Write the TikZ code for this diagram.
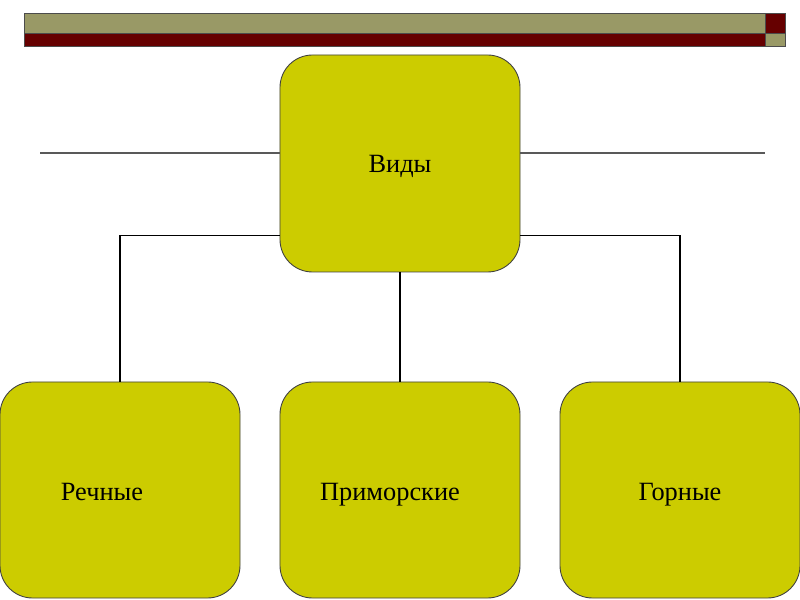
\documentclass[tikz,border=0pt]{standalone}
\usepackage{fontspec}
\setmainfont{Liberation Serif}
\usepackage{tikz}
\usetikzlibrary{positioning, calc}

\definecolor{boxfill}{HTML}{CCCC00}
\definecolor{barolive}{HTML}{999966}
\definecolor{barred}{HTML}{660000}

\begin{document}
\begin{tikzpicture}[
    x=0.2mm, y=-0.2mm,
    kind/.style={draw=black!75, fill=boxfill, rounded corners=6.5mm, minimum width=48mm, minimum height=43.4mm, line width=0.5pt},
    kindtext/.style={font=\fontsize{15}{17}\selectfont, anchor=base},
    link/.style={draw=black, line width=0.9pt}
]
    \useasboundingbox (0,0) rectangle (800,600);

    % Header bar
    \draw[black!70, fill=barolive] (24,13) rectangle (765,33);
    \draw[black!70, fill=barred] (765,13) rectangle (785,33);
    \draw[black!70, fill=barred] (24,33) rectangle (765,46);
    \draw[black!70, fill=barolive] (765,33) rectangle (785,46);

    % Boxes
    \node[kind] (vidy) at (400,163.5) {};
    \node[kind, minimum height=43.2mm] (rech) at (120,490) {};
    \node[kind, minimum height=43.2mm] (prim) at (400,490) {};
    \node[kind, minimum height=43.2mm] (gorn) at (680,490) {};

    \node[kindtext] (vidyt) at (400,173) {Виды};
    \node[kindtext] (recht) at (102,501) {Речные};
    \node[kindtext] (primt) at (390,501) {Приморские};
    \node[kindtext] (gornt) at (680,501) {Горные};

    % Rule across the slide
    \coordinate (ruleL) at (40,153);
    \coordinate (ruleR) at (765,153);
    \draw[black!65, line width=0.6pt] (ruleL) -- (vidy.west |- ruleL);
    \draw[black!65, line width=0.6pt] (vidy.east |- ruleR) -- (ruleR);

    % Connectors
    \draw[link] (rech.north) |- ($(vidy.south west)+(0,-37)$);
    \draw[link] (gorn.north) |- ($(vidy.south east)+(0,-37)$);
    \draw[link] (vidy.south) -- (prim.north);

\end{tikzpicture}
\end{document}
